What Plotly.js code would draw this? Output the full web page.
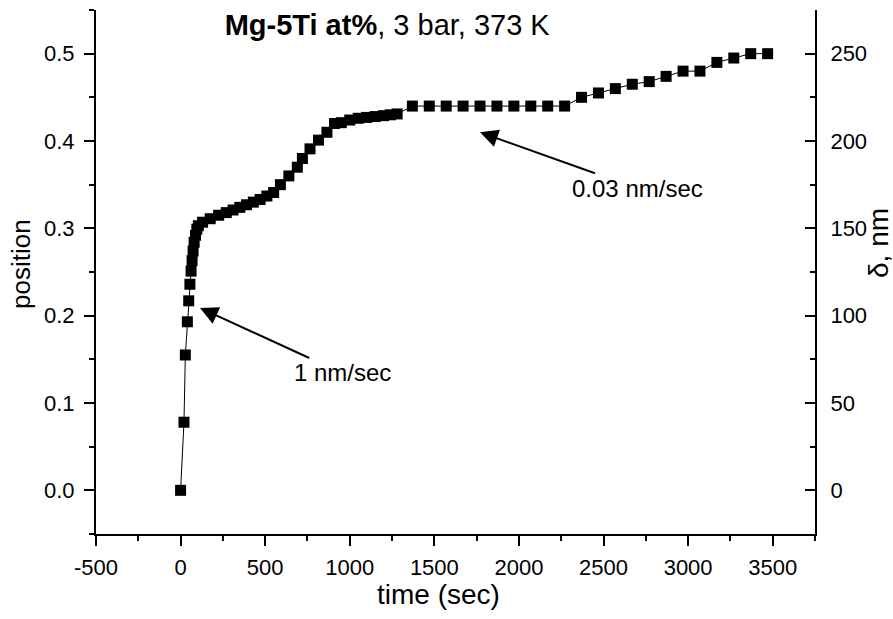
<!DOCTYPE html>
<html>
<head>
<meta charset="utf-8">
<script src="https://cdn.plot.ly/plotly-3.0.1.min.js"></script>
<style>html,body{margin:0;padding:0;background:#fff;}#chart{width:893px;height:619px;}</style>
</head>
<body>
<div id="chart"></div>
<script>
// time (sec)
var timeSec = [0, 20, 28, 40, 48, 55, 62, 68, 74, 80, 88, 96, 105, 130, 175, 225, 270, 310, 350, 390, 430, 470, 510, 550, 590, 640, 690, 720, 765, 815, 865, 910, 950, 1000, 1050, 1100, 1150, 1200, 1240, 1280,
  1370, 1470, 1570, 1670, 1770, 1870, 1970, 2070, 2170, 2270,
  2370, 2470, 2570, 2670, 2770, 2870, 2970, 3070, 3170, 3270, 3370, 3470];
// position
var position = [0.000, 0.078, 0.155, 0.193, 0.217, 0.236, 0.251, 0.263, 0.274, 0.284, 0.292, 0.299, 0.303, 0.307, 0.311, 0.315, 0.318, 0.321, 0.324, 0.327, 0.330, 0.333, 0.337, 0.341, 0.350, 0.360, 0.370, 0.380, 0.391, 0.401, 0.410, 0.420, 0.421, 0.424, 0.426, 0.427, 0.428, 0.429, 0.430, 0.431,
  0.440, 0.440, 0.440, 0.440, 0.440, 0.440, 0.440, 0.440, 0.440, 0.440,
  0.450, 0.455, 0.460, 0.465, 0.468, 0.474, 0.480, 0.480, 0.490, 0.495, 0.500, 0.500];
// delta (nm) = position scale on right axis
var nmPerPosition = 500;

var xTicks = [-500, 0, 500, 1000, 1500, 2000, 2500, 3000, 3500];
var yTicks = [0.0, 0.1, 0.2, 0.3, 0.4, 0.5];
var y2Ticks = [0, 50, 100, 150, 200, 250];

var FONT = 'Arial, "Liberation Sans", sans-serif';
var W = 893, H = 619;

var traces = [{
  x: timeSec, y: position, type: 'scatter', mode: 'lines+markers',
  line: {color: '#000', width: 1},
  marker: {symbol: 'square', size: 11, color: '#000'},
  hoverinfo: 'x+y', showlegend: false
}, {
  // same data on the δ (nm) axis, invisible: only makes the right axis render
  x: timeSec, y: position.map(function(v){return v * nmPerPosition;}),
  yaxis: 'y2', type: 'scatter', mode: 'markers',
  marker: {size: 1, opacity: 0}, hoverinfo: 'skip', showlegend: false
}];

var axisTitleFont = {family: FONT, size: 28, color: '#000'};

var layout = {
  width: W, height: H,
  margin: {l: 96, r: 78, t: 10, b: 85},
  paper_bgcolor: '#fff', plot_bgcolor: '#fff',
  showlegend: false,
  font: {family: FONT, color: '#000', size: 22},
  title: {
    text: '<b>Mg-5Ti at%</b>, 3 bar, 373 K',
    font: {family: FONT, size: 29, color: '#000'},
    xref: 'paper', x: 0.405, xanchor: 'center',
    yref: 'container', y: 1 - 25 / H, yanchor: 'middle'
  },
  xaxis: {
    range: [-500, 3750], tickvals: xTicks, ticktext: xTicks.map(String),
    showline: true, linecolor: '#000', linewidth: 2, mirror: false,
    ticks: 'outside', ticklen: 10, tickwidth: 2, tickcolor: '#000',
    minor: {dtick: 250, tick0: 0, ticks: 'outside', ticklen: 5, tickwidth: 2, tickcolor: '#000'},
    showgrid: false, zeroline: false, ticklabelstandoff: 3,
    tickfont: {family: FONT, size: 22, color: '#000'}
  },
  yaxis: {
    range: [-0.05, 0.55], tickvals: yTicks, ticktext: yTicks.map(function(v){return v.toFixed(1);}),
    showline: true, linecolor: '#000', linewidth: 2, mirror: false,
    ticks: 'outside', ticklen: 10, tickwidth: 2, tickcolor: '#000',
    minor: {dtick: 0.05, tick0: 0, ticks: 'outside', ticklen: 5, tickwidth: 2, tickcolor: '#000'},
    showgrid: false, zeroline: false, ticklabelstandoff: 5,
    tickfont: {family: FONT, size: 22, color: '#000'}
  },
  yaxis2: {
    overlaying: 'y', side: 'right', anchor: 'x',
    range: [-25, 275], tickvals: y2Ticks, ticktext: y2Ticks.map(String),
    showline: true, linecolor: '#000', linewidth: 2,
    ticks: 'inside', ticklen: 10, tickwidth: 2, tickcolor: '#000',
    minor: {dtick: 25, tick0: 0, ticks: 'inside', ticklen: 5, tickwidth: 2, tickcolor: '#000'},
    showgrid: false, zeroline: false, ticklabelstandoff: 9,
    tickfont: {family: FONT, size: 22, color: '#000'}
  },
  annotations: [
    // axis titles
    {text: 'time (sec)', xref: 'paper', yref: 'paper', x: (438 - 96) / 719, y: -(594 - 534) / 524,
     xanchor: 'center', yanchor: 'middle', showarrow: false, font: axisTitleFont},
    {text: 'position', xref: 'paper', yref: 'paper', x: -(96 - 21) / 719, y: (534 - 264) / 524,
     xanchor: 'center', yanchor: 'middle', textangle: -90, showarrow: false,
     font: {family: FONT, size: 26, color: '#000'}},
    {text: 'δ, nm', xref: 'paper', yref: 'paper', x: 1 + (878 - 815) / 719, y: (534 - 243) / 524,
     xanchor: 'center', yanchor: 'middle', textangle: -90, showarrow: false, font: axisTitleFont},
    // rate annotations
    {x: 115, y: 0.2088, xref: 'x', yref: 'y', text: '1 nm/sec', showarrow: true,
     ax: 142, ay: 65, arrowhead: 2, arrowsize: 1.8, arrowwidth: 2, arrowcolor: '#000',
     font: {family: FONT, size: 24, color: '#000'}},
    {x: 1770, y: 0.410, xref: 'x', yref: 'y', text: '0.03 nm/sec', showarrow: true,
     ax: 157, ay: 56, arrowhead: 2, arrowsize: 1.8, arrowwidth: 2, arrowcolor: '#000',
     font: {family: FONT, size: 24, color: '#000'}}
  ]
};

Plotly.newPlot('chart', traces, layout, {displayModeBar: false, staticPlot: true});
</script>
</body>
</html>
